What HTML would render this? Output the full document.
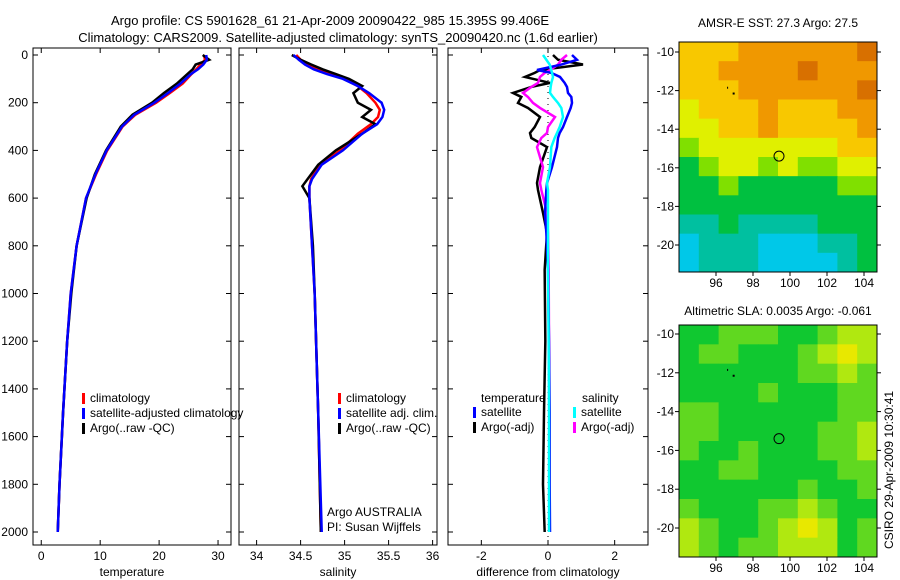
<!DOCTYPE html>
<html><head><meta charset="utf-8"><style>
body{margin:0;background:#fff;}
svg{display:block;font-family:"Liberation Sans",sans-serif;font-size:12px;}
</style></head><body>
<svg id="c" width="900" height="580">
<text x="330" y="25" text-anchor="middle" font-size="13">Argo profile: CS 5901628_61 21-Apr-2009 20090422_985 15.395S 99.406E</text>
<text x="338" y="42" text-anchor="middle" font-size="13">Climatology: CARS2009. Satellite-adjusted climatology: synTS_20090420.nc (1.6d earlier)</text>
<text x="778" y="27" text-anchor="middle">AMSR-E SST: 27.3 Argo: 27.5</text>
<text x="778" y="315" text-anchor="middle">Altimetric SLA: 0.0035 Argo: -0.061</text>
<text transform="translate(893,470) rotate(-90)" text-anchor="middle">CSIRO 29-Apr-2009 10:30:41</text>
<g id="g"></g>
</svg>
<script>
// ---- data ----
const depthTicks=[0,200,400,600,800,1000,1200,1400,1600,1800,2000];
const tempTicks=[0,10,20,30];
const salTicks=[34,34.5,35,35.5,36];
const diffTicks=[-2,0,2];
const tDepth=[0,20,40,60,80,120,160,200,250,300,400,500,600,800,1000,1200,1500,1800,2000];
const tClim=[27.6,27.8,27,26.3,25.5,24,21.8,19.5,16,13.8,11.2,9.3,7.6,6,5,4.4,3.7,3.1,2.8];
const tSat=[28,28.1,27.5,26.6,25.4,23.6,21.5,19.2,15.8,13.7,11.1,9.2,7.6,6,5,4.4,3.7,3.1,2.8];
const tArgo=[27.4,28.5,26.2,25.7,24.8,23,20.8,18.8,15.5,13.5,11,9.1,7.7,6,5.1,4.4,3.7,3.1,2.8];
const sDepth=[0,20,40,60,80,100,130,160,200,230,260,290,330,400,460,520,550,600,800,1000,1500,2000];
const sClim=[34.45,34.5,34.6,34.7,34.85,35,35.15,35.25,35.35,35.4,35.38,35.3,35.15,34.95,34.72,34.62,34.6,34.6,34.63,34.66,34.7,34.73];
const sSat=[34.42,34.48,34.55,34.65,34.8,34.98,35.15,35.28,35.42,35.45,35.43,35.37,35.2,34.98,34.74,34.63,34.6,34.6,34.63,34.66,34.7,34.74];
const sArgo=[34.4,34.5,34.62,34.75,34.9,35.05,35.2,35.1,35.15,35.3,35.2,35.35,35.2,34.9,34.7,34.58,34.52,34.6,34.64,34.66,34.7,34.73];
const dDepth=[0,20,40,63,75,92,117,134,159,176,201,222,260,302,327,348,386,470,537,566,662,746,900,1200,1500,1800,2000];
const dTempSat=[0.72,0.87,0.4,-0.33,0.1,0.36,0.5,0.57,0.6,0.7,0.72,0.68,0.57,0.45,0.35,0.3,0.27,0.12,-0.03,-0.05,-0.09,-0.05,0,0.03,0.05,0.05,0.06];
const dTempArgo=[0.15,0.3,1.05,-0.24,-0.4,-0.69,0.06,-0.5,-1.05,-0.8,-0.9,-0.6,-0.24,-0.4,-0.54,-0.5,-0.03,-0.24,-0.33,-0.3,-0.15,-0.03,-0.1,-0.08,-0.12,-0.15,-0.1];
const dSalSat=[-0.15,-0.05,0.05,0.1,0.12,0.15,0.1,0.08,0.06,0.15,0.3,0.4,0.45,0.35,0.27,0.2,0.1,0.06,-0.03,0,0,0,0,0.02,0.03,0.03,0.03];
const dSalArgo=[0.57,0.4,0.3,0.06,-0.1,-0.24,-0.3,-0.5,-0.75,-0.6,-0.45,-0.24,0.21,0,-0.03,-0.2,-0.33,-0.15,-0.24,-0.2,-0.03,0,0.02,0.03,0.04,0.05,0.05];
const lonTicks=[96,98,100,102,104];
const latTicks=[10,12,14,16,18,20];
const sstGrid=[
[5,5,5,6,6,6,6,6,6,7],[5,5,6,6,6,6,7,6,6,6],[5,5,5,6,6,6,6,6,6,7],[4,5,5,5,6,5,5,5,6,6],
[4,4,5,5,6,5,5,5,5,6],[3,4,4,4,4,4,4,4,5,5],[2,3,4,4,3,4,3,3,4,4],[2,2,3,2,2,2,2,2,3,3],
[2,2,2,2,2,2,2,2,2,2],[1,1,2,1,1,1,1,2,2,2],[0,1,1,1,0,0,0,1,1,2],[0,1,1,1,0,0,0,0,1,2]];
const slaGrid=[
[1,1,2,2,2,1,1,2,3,3],[1,2,2,1,1,1,2,3,4,3],[1,1,1,1,1,1,2,2,3,2],[1,1,1,1,2,1,1,1,2,2],
[2,2,1,1,1,1,1,1,2,2],[2,2,1,1,1,1,1,2,2,3],[2,1,1,2,1,1,1,2,2,3],[1,1,2,2,1,1,1,1,2,2],
[1,1,1,1,1,1,2,1,1,2],[2,1,1,1,2,2,3,2,1,1],[3,2,1,1,2,3,4,3,1,2],[3,2,1,2,2,3,3,3,1,2]];
const sstColors=['#00c8e8','#00c0a0','#00c040','#80e000','#e0f000','#f8c800','#f09800','#d87000'];
const slaColors=['#00a040','#10c830','#60d820','#b0e810','#e8e800'];
// ---- drawing ----
const NS='http://www.w3.org/2000/svg',G=document.getElementById('g');
function mk(t,a,p){const e=document.createElementNS(NS,t);for(const k in a)e.setAttribute(k,a[k]);(p||G).appendChild(e);return e;}
const yD=d=>55+d*0.2385;
function panel(name,x0,x1,lo,hi,ticks,label,fmt){
  const sx=v=>x0+(v-lo)/(hi-lo)*(x1-x0);
  const r=mk('rect',{x:x0,y:48,width:x1-x0,height:497,fill:'none',stroke:'#000'});
  
  
  ticks.forEach(t=>{const x=sx(t);mk('line',{x1:x,x2:x,y1:545,y2:540,stroke:'#000'});mk('line',{x1:x,x2:x,y1:48,y2:53,stroke:'#000'});
    const tx=mk('text',{x:x,y:560,'text-anchor':'middle'});tx.textContent=fmt?fmt(t):t;
    
    });
  depthTicks.forEach(d=>{mk('line',{x1:x0,x2:x0+5,y1:yD(d),y2:yD(d),stroke:'#000'});mk('line',{x1:x1,x2:x1-5,y1:yD(d),y2:yD(d),stroke:'#000'});});
  const l=mk('text',{x:(x0+x1)/2,y:576,'text-anchor':'middle'});l.textContent=label;
  
  
  return sx;
}
function line(sx,xs,ds,col,name){const p=mk('polyline',{points:xs.map((v,i)=>sx(v)+','+yD(ds[i])).join(' '),fill:'none',stroke:col,'stroke-width':2.5});
  
  }
function legend(x,y,col,txt,name){mk('rect',{x:x,y:y-9,width:3,height:11,fill:col});const t=mk('text',{x:x+8,y:y});t.textContent=txt;
  
  }
depthTicks.forEach(d=>{const t=mk('text',{x:28,y:yD(d)+4,'text-anchor':'end'});t.textContent=d;
  
  });
const sx1=panel('temperature-panel',33,231,-1.4,32.2,tempTicks,'temperature');
line(sx1,tClim,tDepth,'#f00','temp-climatology-line');line(sx1,tArgo,tDepth,'#000','temp-argo-line');line(sx1,tSat,tDepth,'#00f','temp-satellite-line');
legend(82,402,'#f00','climatology','legend-climatology');legend(82,417,'#00f','satellite-adjusted climatology','legend-satellite');legend(82,432,'#000','Argo(..raw -QC)','legend-argo');
const sx2=panel('salinity-panel',239,437,33.8,36.05,salTicks,'salinity',t=>t);
line(sx2,sClim,sDepth,'#f00','sal-climatology-line');line(sx2,sArgo,sDepth,'#000','sal-argo-line');line(sx2,sSat,sDepth,'#00f','sal-satellite-line');
legend(338,402,'#f00','climatology','legend-sal-climatology');legend(338,417,'#00f','satellite adj. clim.','legend-sal-satellite');legend(338,432,'#000','Argo(..raw -QC)','legend-sal-argo');
let t=mk('text',{x:327,y:516});t.textContent='Argo AUSTRALIA';t=mk('text',{x:327,y:531});t.textContent='PI: Susan Wijffels';
const sx3=panel('difference-panel',448,648,-3,3,diffTicks,'difference from climatology',v=>v<0?'-'+(-v):v);
mk('line',{x1:sx3(0),x2:sx3(0),y1:50,y2:543,stroke:'#000','stroke-dasharray':'1,5'});
line(sx3,dTempArgo,dDepth,'#000','diff-temp-argo-line');line(sx3,dSalArgo,dDepth,'#f0f','diff-sal-argo-line');
line(sx3,dTempSat,dDepth,'#00f','diff-temp-satellite-line');line(sx3,dSalSat,dDepth,'#0ff','diff-sal-satellite-line');
t=mk('text',{x:481,y:402});t.textContent='temperature';t=mk('text',{x:582,y:402});t.textContent='salinity';
legend(473,416,'#00f','satellite','legend-diff-temp-sat');legend(473,431,'#000','Argo(-adj)','legend-diff-temp-argo');
legend(573,416,'#0ff','satellite','legend-diff-sal-sat');legend(573,431,'#f0f','Argo(-adj)','legend-diff-sal-argo');
function map(name,top,bot,grid,cols,latY){
  const x0=679,x1=877,lon=v=>716+(v-96)*18.5;
  const rows=grid.length,nc=grid[0].length,cw=(x1-x0)/nc,ch=(bot-top)/rows;
  grid.forEach((row,i)=>row.forEach((v,j)=>{const c=mk('rect',{x:x0+j*cw,y:top+i*ch,width:cw+0.5,height:ch+0.5,fill:cols[v]});
    
    }));
  const f=mk('rect',{x:x0,y:top,width:x1-x0,height:bot-top,fill:'none',stroke:'#000'});
  
  
  lonTicks.forEach(v=>{const x=lon(v);mk('line',{x1:x,x2:x,y1:bot,y2:bot+4,stroke:'#000'});const tx=mk('text',{x:x,y:bot+15,'text-anchor':'middle'});tx.textContent=v;
    
    });
  latTicks.forEach(v=>{const y=latY(v);mk('line',{x1:x0-4,x2:x0,y1:y,y2:y,stroke:'#000'});mk('line',{x1:x1,x2:x1+4,y1:y,y2:y,stroke:'#000'});
    const tx=mk('text',{x:x0-5,y:y+4,'text-anchor':'end'});tx.textContent='-'+v;
    
    });
  const m=mk('circle',{cx:lon(99.406),cy:latY(15.395),r:5,fill:'none',stroke:'#000'});
  
  
  mk('rect',{x:lon(96.6),y:latY(11.8),width:1,height:2,fill:'#000'});mk('rect',{x:lon(96.9),y:latY(12.1),width:2,height:2,fill:'#000'});
}
map('sst-map',42,272,sstGrid,sstColors,v=>52+(v-10)*19.3);
map('sla-map',325,557,slaGrid,slaColors,v=>334+(v-10)*19.4);
</script>
</body></html>
